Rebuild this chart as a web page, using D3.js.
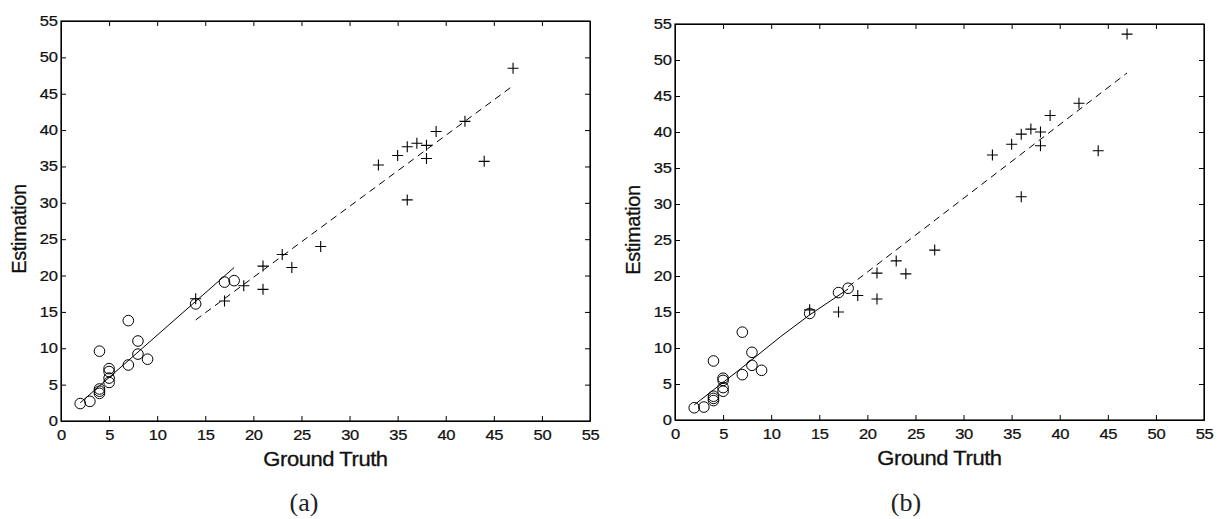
<!DOCTYPE html>
<html>
<head>
<meta charset="utf-8">
<script src="https://cdn.jsdelivr.net/npm/d3@7"></script>
<style>
  html, body { margin: 0; padding: 0; background: #fff; }
  svg { display: block; }
  .axis path, .axis line { stroke: #000; stroke-width: 1; }
  .axis text { font-family: "Liberation Sans", Arial, Helvetica, sans-serif; font-size: 14px;
               fill: #111; stroke: #111; stroke-width: 0.25; letter-spacing: -0.3px; }
  .lbl { font-family: "Liberation Sans", Arial, Helvetica, sans-serif; font-size: 20px;
         fill: #111; stroke: #111; stroke-width: 0.3; letter-spacing: -0.4px; }
  .cap { font-family: "Liberation Serif", "Times New Roman", serif; font-size: 26px; fill: #222; }
</style>
</head>
<body>
<svg id="chart" width="1218" height="519"></svg>
<script>
/* ── Data ──────────────────────────────────────────────────────── */
const ticks = [0, 5, 10, 15, 20, 25, 30, 35, 40, 45, 50, 55];

// ground truth, shared by both panels
const gtLow  = [2, 3, 4, 4, 4, 4, 5, 5, 5, 5, 7, 7, 8, 8, 9, 14, 17, 18];
const gtHigh = [14, 17, 19, 21, 21, 23, 24, 27, 33, 35, 36, 36, 37, 38, 38, 39, 42, 44, 47];

// panel (a) estimates
const estLowA  = [2.4, 2.7, 9.6, 4.4, 4.1, 3.8, 7.2, 6.8, 5.9, 5.3, 13.8, 7.7, 11.0, 9.2, 8.5, 16.1, 19.1, 19.3];
const estHighA = [16.8, 16.5, 18.6, 21.3, 18.1, 22.9, 21.1, 24.0, 35.2, 36.5, 37.7, 30.4, 38.2, 37.9, 36.1, 39.8, 41.2, 35.7, 48.5];

// panel (b) estimates
const estLowB  = [1.7, 1.8, 8.2, 3.3, 3.0, 2.7, 5.8, 5.5, 4.5, 4.0, 12.2, 6.3, 9.4, 7.6, 6.9, 14.8, 17.7, 18.3];
const estHighB = [15.3, 15.0, 17.3, 20.4, 16.8, 22.1, 20.3, 23.6, 36.8, 38.3, 39.7, 31.0, 40.4, 40.0, 38.1, 42.3, 44.0, 37.4, 53.6];

// fitted lines (solid: low range, dashed: high range)
const fitLowAx  = [2, 18],   fitLowAy  = [2.5, 21.1];
const fitHighAx = [14, 47],  fitHighAy = [13.9, 46.1];
const fitLowBx  = [2, 7, 11, 14, 18], fitLowBy = [2.1, 7.3, 11.6, 14.6, 18.2];
const fitHighBx = [18, 47],  fitHighBy = [18.5, 48.2];

/* ── Layout ────────────────────────────────────────────────────── */
const TICK = 5;       // inward tick length
const STRETCH = 1.18; // horizontal stretch of the tick labels in the source image

const panels = [
  { x0: 61,  x1: 590,  y0: 421, y1: 21, lowY: estLowA, highY: estHighA,
    fl: [fitLowAx, fitLowAy], fh: [fitHighAx, fitHighAy], cap: '(a)', capX: 304 },
  { x0: 675, x1: 1204, y0: 420, y1: 24, lowY: estLowB, highY: estHighB,
    fl: [fitLowBx, fitLowBy], fh: [fitHighBx, fitHighBy], cap: '(b)', capX: 906 }
];

const svg = d3.select('#chart');

panels.forEach(p => {
  const x = d3.scaleLinear().domain([0, 55]).range([p.x0, p.x1]);
  const y = d3.scaleLinear().domain([0, 55]).range([p.y0, p.y1]);
  const g = svg.append('g');

  /* axes – MATLAB style box with inward ticks on all sides */
  const stretch = sel => sel.selectAll('text').attr('transform', `scale(${STRETCH},1)`);

  g.append('g').attr('class', 'axis').attr('transform', `translate(0,${p.y0})`)
    .call(d3.axisBottom(x).tickValues(ticks).tickSizeInner(-TICK).tickSizeOuter(0).tickPadding(9))
    .call(stretch);
  g.append('g').attr('class', 'axis').attr('transform', `translate(${p.x0},0)`)
    .call(d3.axisLeft(y).tickValues(ticks).tickSizeInner(-TICK).tickSizeOuter(0).tickPadding(3))
    .call(stretch);
  g.append('g').attr('class', 'axis').attr('transform', `translate(0,${p.y1})`)
    .call(d3.axisTop(x).tickValues(ticks).tickSizeInner(-TICK).tickSizeOuter(0).tickFormat(''));
  g.append('g').attr('class', 'axis').attr('transform', `translate(${p.x1},0)`)
    .call(d3.axisRight(y).tickValues(ticks).tickSizeInner(-TICK).tickSizeOuter(0).tickFormat(''));

  g.append('rect')
    .attr('x', p.x0).attr('y', p.y1)
    .attr('width', p.x1 - p.x0).attr('height', p.y0 - p.y1)
    .attr('fill', 'none').attr('stroke', '#000').attr('stroke-width', 1.2);

  /* fit lines */
  const line = d3.line().x(d => x(d[0])).y(d => y(d[1]));
  g.append('path')
    .attr('d', line(d3.zip(p.fl[0], p.fl[1])))
    .attr('fill', 'none').attr('stroke', '#000').attr('stroke-width', 1);
  g.append('path')
    .attr('d', line(d3.zip(p.fh[0], p.fh[1])))
    .attr('fill', 'none').attr('stroke', '#000').attr('stroke-width', 1)
    .attr('stroke-dasharray', '7,5');

  /* circles: low range */
  g.append('g').selectAll('circle')
    .data(d3.zip(gtLow, p.lowY))
    .join('circle')
    .attr('cx', d => x(d[0])).attr('cy', d => y(d[1])).attr('r', 5.3)
    .attr('fill', 'none').attr('stroke', '#000').attr('stroke-width', 1);

  /* pluses: high range */
  g.append('g').selectAll('path')
    .data(d3.zip(gtHigh, p.highY))
    .join('path')
    .attr('d', d => `M${x(d[0]) - 5.5},${y(d[1])}H${x(d[0]) + 5.5}M${x(d[0])},${y(d[1]) - 5.5}V${y(d[1]) + 5.5}`)
    .attr('fill', 'none').attr('stroke', '#000').attr('stroke-width', 1.1);

  /* labels */
  const cx = (p.x0 + p.x1) / 2;
  g.append('text').attr('class', 'lbl')
    .attr('x', cx).attr('y', p.y0 + 45)
    .attr('text-anchor', 'middle')
    .attr('transform', `translate(${cx * (1 - 1.1)},0) scale(1.1,1)`)
    .text('Ground Truth');

  const cy = (p.y0 + p.y1) / 2 + 8;
  g.append('text').attr('class', 'lbl')
    .attr('transform', `translate(${p.x0 - 35},${cy}) rotate(-90)`)
    .attr('text-anchor', 'middle')
    .text('Estimation');

  g.append('text').attr('class', 'cap')
    .attr('x', p.capX).attr('y', 511)
    .attr('text-anchor', 'middle')
    .text(p.cap);
});
</script>
</body>
</html>
